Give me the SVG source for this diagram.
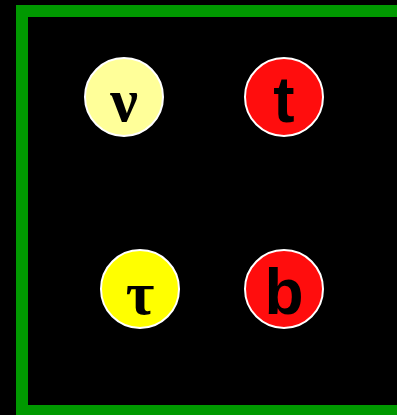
<svg xmlns="http://www.w3.org/2000/svg" width="397" height="415" viewBox="0 0 397 415">
<style>
.n{stroke:#fff;stroke-width:2}
.g{font-family:"Liberation Serif","DejaVu Serif",serif;font-weight:bold;font-size:62px;text-anchor:middle;fill:#000}
.l{font-family:"Liberation Sans",Arial,sans-serif;font-weight:bold;font-size:64px;text-anchor:middle;fill:#000}
</style>
<rect x="0" y="0" width="397" height="415" fill="#000"/>
<rect x="22" y="11" width="400" height="400" fill="none" stroke="#009900" stroke-width="12"/>
<g id="connectors"></g>
<g id="nu"><circle class="n" cx="124" cy="97" r="39" fill="#FFFF99"/><text class="g" x="124" y="121">ν</text></g>
<g id="t"><circle class="n" cx="284" cy="97" r="39" fill="#FF0D0D"/><text class="l" x="284" y="122">t</text></g>
<g id="tau"><circle class="n" cx="140" cy="289" r="39" fill="#FFFF00"/><text class="g" x="140" y="314">τ</text></g>
<g id="b"><circle class="n" cx="284" cy="289" r="39" fill="#FF0D0D"/><text class="l" x="284" y="314">b</text></g>
</svg>
